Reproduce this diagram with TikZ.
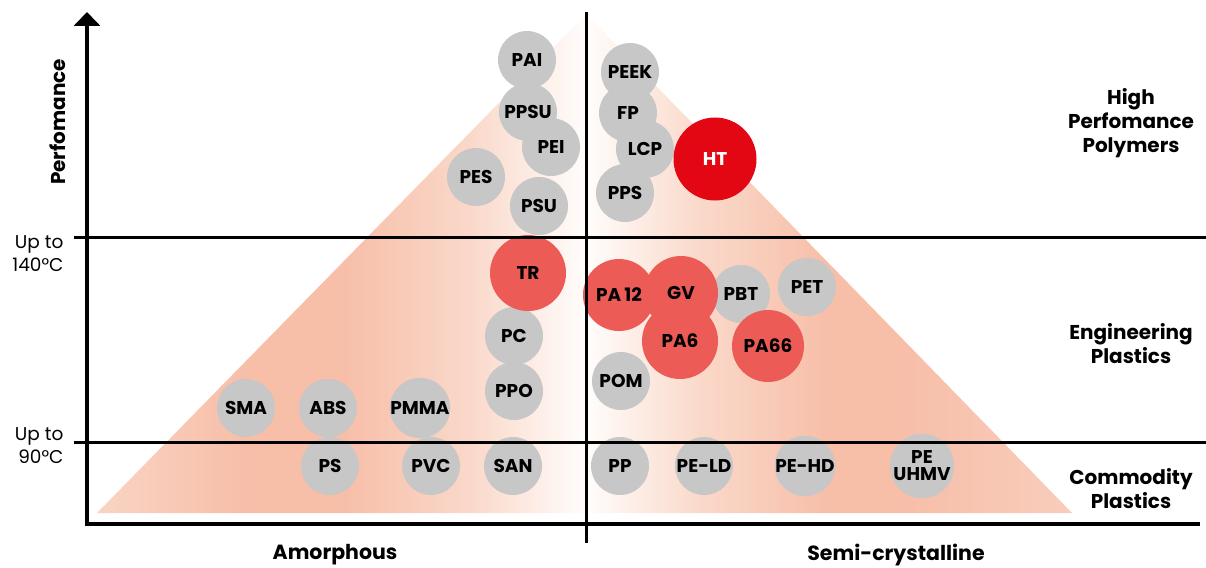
\documentclass[tikz,border=0pt]{standalone}
\usepackage{fontspec}
\setmainfont{Poppins}
\usetikzlibrary{arrows.meta}
\definecolor{peak}{RGB}{247,190,168}
\definecolor{edgeL}{RGB}{249,212,195}
\definecolor{edgeR}{RGB}{248,205,187}
\definecolor{midL}{RGB}{250,216,201}
\definecolor{wht}{RGB}{255,253,251}
\definecolor{cgray}{RGB}{198,199,198}
\definecolor{cred}{RGB}{236,91,85}
\definecolor{cht}{RGB}{227,6,19}
\pgfdeclarehorizontalshading{leftgrad}{100bp}{color(0bp)=(edgeL); color(25bp)=(edgeL); color(40.5bp)=(peak); color(50bp)=(peak); color(63bp)=(midL); color(75bp)=(wht); color(100bp)=(wht)}
\pgfdeclarehorizontalshading{rightgrad}{100bp}{color(0bp)=(wht); color(25bp)=(wht); color(37bp)=(midL); color(50bp)=(peak); color(57bp)=(peak); color(75bp)=(edgeR); color(100bp)=(edgeR)}
\tikzset{
  bub/.style={circle, inner sep=0pt, minimum size=58pt, fill=cgray, align=center,
    font=\bfseries\fontsize{18.5}{19}\selectfont},
  rbub/.style={bub, fill=cred},
  axisline/.style={line width=4.5pt},
  divline/.style={line width=3pt},
  cat/.style={align=center, font=\bfseries\fontsize{20}{24}\selectfont},
  temp/.style={align=right, anchor=east, font=\fontsize{18.5}{23}\selectfont},
  xlab/.style={font=\bfseries\fontsize{20.5}{24}\selectfont}
}
\begin{document}
\begin{tikzpicture}[x=1pt,y=-1pt]
\useasboundingbox (0,0) rectangle (1206,567);
% gradient triangle
\coordinate (apex) at (586,14);
\coordinate (bl) at (97,513);
\coordinate (bm) at (586,513);
\coordinate (br) at (1072,513);
\shade[shading=leftgrad] (apex) -- (bl) -- (bm) -- cycle;
\shade[shading=rightgrad] (apex) -- (br) -- (bm) -- cycle;
% bubbles gray
\node[bub] (pai) at (527,60) {PAI};
\node[bub] (ppsu) at (528,112) {PPSU};
\node[bub] (pei) at (551,147) {PEI};
\node[bub] (pes) at (476,177) {PES};
\node[bub] (psu) at (539,206) {PSU};
\node[bub] (peek) at (630,72) {PEEK};
\node[bub] (fp) at (628,113) {FP};
\node[bub] (lcp) at (645,149) {LCP};
\node[bub] (pps) at (625,193) {PPS};
\node[bub] (pc) at (514,336) {PC};
\node[bub] (ppo) at (514,391) {PPO};
\node[bub] (pbt) at (741,294) {PBT};
\node[bub] (pet) at (807,287) {PET};
\node[bub] (pom) at (621,381) {POM};
\node[bub] (sma) at (246,408) {SMA};
\node[bub] (abs) at (328,408) {ABS};
\node[bub] (pmma) at (420,408) {PMMA};
\node[bub] (ps) at (330,466) {PS};
\node[bub] (pvc) at (431,466) {PVC};
\node[bub] (san) at (513,466) {SAN};
\node[bub] (pp) at (620,466) {PP};
\node[bub] (peld) at (704,466) {PE-LD};
\node[bub] (pehd) at (805,466) {PE-HD};
\node[bub] (peuhmv) at (922,466) {PE\\[-2pt]UHMV};
% red bubbles
\node[rbub, minimum size=76pt] (tr) at (528,273) {TR};
\node[rbub, minimum size=72pt] (pa12) at (619,295) {PA\,12};
\node[rbub, minimum size=74pt] (gv) at (681,293) {GV};
\node[rbub, minimum size=76pt] (pa6) at (680,341) {PA6};
\node[rbub, minimum size=72pt] (pa66) at (768,346) {PA66};
\node[rbub, fill=cht, text=white, minimum size=83pt] (ht) at (715,159) {HT};
% axes
\coordinate (O) at (87,524);
\coordinate (ytop) at (87,12);
\coordinate (xend) at (1200,524);
\draw[axisline, -{Triangle[width=26pt,length=14pt]}] (xend) -- (O) -- (ytop);
\coordinate (h1a) at (74,237);
\coordinate (h1b) at (1206,237);
\coordinate (h2a) at (74,442);
\coordinate (h2b) at (1206,442);
\coordinate (vtop) at (586,12);
\coordinate (vbot) at (586,543);
\draw[divline] (h1a) -- (h1b);
\draw[divline] (h2a) -- (h2b);
\draw[divline] (vtop) -- (vbot);
% labels
\node[rotate=90, font=\bfseries\fontsize{20}{24}\selectfont] (perf) at (58,122) {Perfomance};
\node[temp] (t140) at (67,254) {Up to\\140°C};
\node[temp] (t90) at (67,446) {Up to\\90°C};
\node[cat] (hpp) at (1131,123) {High\\Perfomance\\Polymers};
\node[cat] (ep) at (1131,344) {Engineering\\Plastics};
\node[cat] (cp) at (1131,489) {Commodity\\Plastics};
\node[xlab] (amo) at (335,555) {Amorphous};
\node[xlab] (semi) at (896,555) {Semi-crystalline};
\end{tikzpicture}
\end{document}
